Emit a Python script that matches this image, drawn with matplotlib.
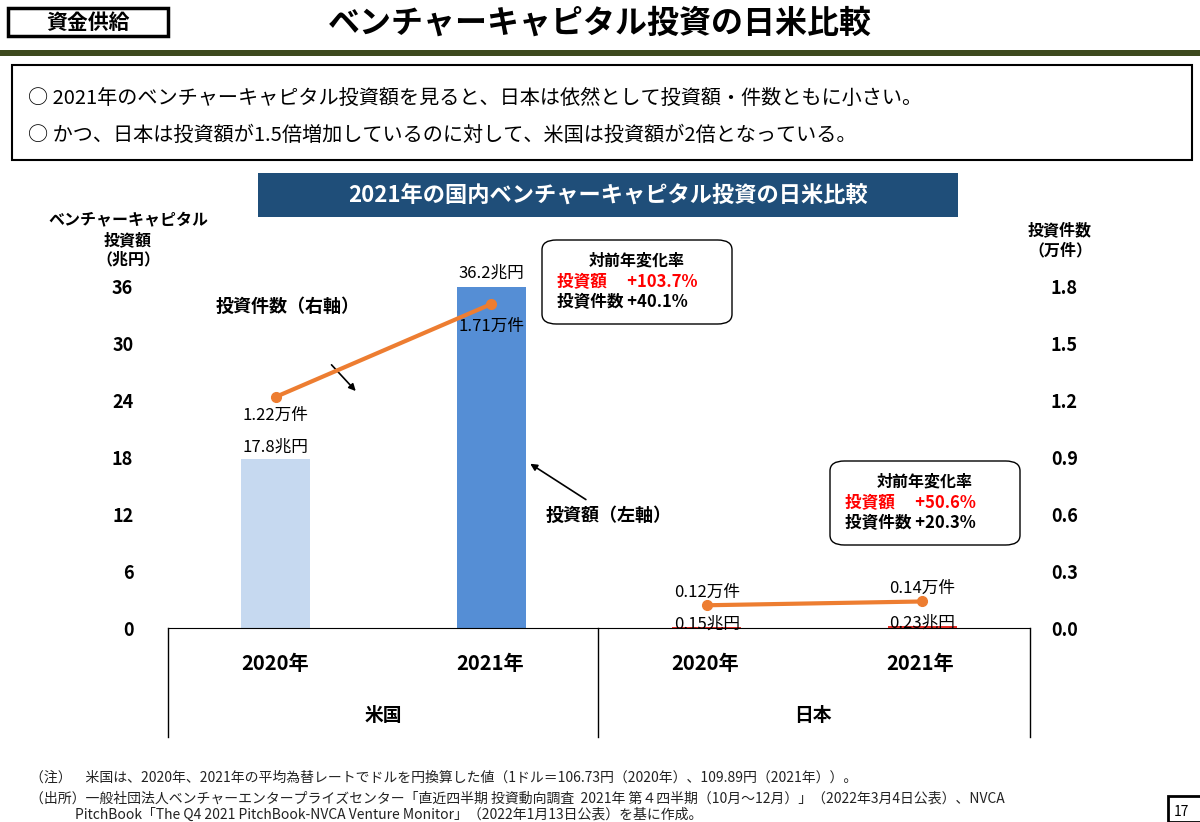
import matplotlib
matplotlib.use("Agg")
import matplotlib.pyplot as plt
from matplotlib.patches import Rectangle, FancyBboxPatch
from matplotlib.lines import Line2D

plt.rcParams['font.family'] = ['Noto Sans CJK JP', 'DejaVu Sans']

categories = ["2020年", "2021年", "2020年", "2021年"]
countries = ["米国", "日本"]
amount = [17.8, 36.2, 0.15, 0.23]          # 兆円
amount_labels = ["17.8兆円", "36.2兆円", "0.15兆円", "0.23兆円"]
counts = [1.22, 1.71, 0.12, 0.14]          # 万件
count_labels = ["1.22万件", "1.71万件", "0.12万件", "0.14万件"]
bar_colors = ["#c6d9f0", "#558ed5", "#e8302a", "#e8302a"]
left_ticks = [0, 6, 12, 18, 24, 30, 36]
right_ticks = [0.0, 0.3, 0.6, 0.9, 1.2, 1.5, 1.8]

W, H = 1200, 822
fig = plt.figure(figsize=(12, 8.22), dpi=100)

def fx(x): return x / W
def fy(y): return 1 - y / H

# Header
fig.add_artist(Rectangle((fx(8), fy(36)), fx(160), 28 / H, fill=False, lw=2.5, ec="black"))
fig.text(fx(88), fy(22), "資金供給", ha="center", va="center", fontsize=15, fontweight="bold")
fig.text(fx(600), fy(24), "ベンチャーキャピタル投資の日米比較", ha="center", va="center", fontsize=23, fontweight="bold")
fig.add_artist(Rectangle((0, fy(56)), 1, 6 / H, color="#3d4a1e", lw=0))
fig.add_artist(Rectangle((fx(12), fy(160)), fx(1180), 95 / H, fill=False, lw=1.5, ec="black"))
fig.text(fx(28), fy(98), "○ 2021年のベンチャーキャピタル投資額を見ると、日本は依然として投資額・件数ともに小さい。", va="center", fontsize=14.5)
fig.text(fx(28), fy(135), "○ かつ、日本は投資額が1.5倍増加しているのに対して、米国は投資額が2倍となっている。", va="center", fontsize=14.5)

# Chart title band
fig.add_artist(Rectangle((fx(258), fy(217)), fx(700), 44 / H, color="#1f4e79", lw=0))
fig.text(fx(608), fy(195), "2021年の国内ベンチャーキャピタル投資の日米比較", ha="center", va="center",
         fontsize=16, fontweight="bold", color="white")

ax = fig.add_axes([fx(168), fy(628), fx(1030 - 168), (628 - 287) / H])
x = list(range(len(categories)))
ax.bar(x, amount, width=0.32, color=bar_colors)
ax.set_xlim(-0.5, 3.5)
ax.set_ylim(0, 36)
ax.set_yticks(left_ticks)
ax.set_yticklabels([str(t) for t in left_ticks], fontsize=13, fontweight="bold")
ax.set_xticks([])
for s in ["top", "right", "left"]:
    ax.spines[s].set_visible(False)
ax.tick_params(axis="y", length=0, pad=25)

ax2 = ax.twinx()
ax2.set_ylim(0, 1.8)
ax2.set_yticks(right_ticks)
ax2.set_yticklabels([f"{t:.1f}" for t in right_ticks], fontsize=13, fontweight="bold")
ax2.tick_params(axis="y", length=0, pad=15)
for s in ["top", "right", "left", "bottom"]:
    ax2.spines[s].set_visible(False)
ax2.plot(x[:2], counts[:2], color="#ed7d31", lw=3, marker="o", ms=7)
ax2.plot(x[2:], counts[2:], color="#ed7d31", lw=3, marker="o", ms=7)

# labels
for i in x:
    if i < 2:
        ax.text(i, amount[i] + 0.4, amount_labels[i], ha="center", va="bottom", fontsize=12)
    else:
        ax.text(i, amount[i] + 0.3, amount_labels[i], ha="center", va="center", fontsize=12)
cl_off = [-0.1, -0.12, 0.07, 0.07]
for i in x:
    ax2.text(i, counts[i] + cl_off[i], count_labels[i], ha="center", va="center", fontsize=12)
fig.text(fx(128), fy(240), "ベンチャーキャピタル\n投資額\n（兆円）", ha="center", va="center",
         fontsize=11.5, fontweight="bold", linespacing=1.3)
fig.text(fx(1060), fy(240), "投資件数\n（万件）", ha="center", va="center",
         fontsize=11.5, fontweight="bold", linespacing=1.3)

# annotations
ax.annotate("", xy=(0.38, 24.8), xytext=(0.25, 28.0), arrowprops=dict(arrowstyle="-|>", color="black", lw=1.2))
ax.text(-0.28, 34.0, "投資件数（右軸）", fontsize=13, fontweight="bold", va="center")
ax.annotate("", xy=(1.17, 17.5), xytext=(1.45, 13.4), arrowprops=dict(arrowstyle="-|>", color="black", lw=1.2))
ax.text(1.25, 11.9, "投資額（左軸）", fontsize=13, fontweight="bold", va="center")

def callbox(cx, cy, lines):
    fig.add_artist(FancyBboxPatch((fx(cx - 95), fy(cy + 42)), fx(190), 84 / H,
                                  boxstyle="round,pad=0,rounding_size=0.012", fill=False, lw=1, ec="black"))
    fig.text(fx(cx), fy(cy - 22), "対前年変化率", ha="center", va="center", fontsize=11.5, fontweight="bold")
    fig.text(fx(cx - 80), fy(cy), lines[0], ha="left", va="center", fontsize=12, fontweight="bold", color="#ff0000")
    fig.text(fx(cx - 80), fy(cy + 20), lines[1], ha="left", va="center", fontsize=12, fontweight="bold")

callbox(637, 282, ["投資額　 +103.7%", "投資件数 +40.1%"])
callbox(925, 503, ["投資額　 +50.6%", "投資件数 +20.3%"])

# lower category table
for xx in [168, 598, 1030]:
    fig.add_artist(Line2D([fx(xx), fx(xx)], [fy(628), fy(737)], color="black", lw=1))
for i, c in enumerate(categories):
    fig.text(fx(275 + 215 * i), fy(663), c, ha="center", va="center", fontsize=14.5, fontweight="bold")
fig.text(fx(383), fy(715), countries[0], ha="center", va="center", fontsize=13.5, fontweight="bold")
fig.text(fx(813), fy(715), countries[1], ha="center", va="center", fontsize=13.5, fontweight="bold")

# footnotes
fig.text(fx(30), fy(778), "（注）　米国は、2020年、2021年の平均為替レートでドルを円換算した値（1ドル＝106.73円（2020年）、109.89円（2021年））。",
         fontsize=10, va="center", color="#222222")
fig.text(fx(30), fy(799), "（出所）一般社団法人ベンチャーエンタープライズセンター「直近四半期 投資動向調査  2021年 第４四半期（10月～12月）」（2022年3月4日公表）、NVCA",
         fontsize=10, va="center", color="#222222")
fig.text(fx(75), fy(815), "PitchBook「The Q4 2021 PitchBook-NVCA Venture Monitor」（2022年1月13日公表）を基に作成。",
         fontsize=10, va="center", color="#222222")
fig.add_artist(Rectangle((fx(1168), fy(822)), fx(40), 26 / H, fill=False, lw=2, ec="black"))
fig.text(fx(1174), fy(812), "17", fontsize=10, va="center")

fig.savefig("out.png", dpi=100)
